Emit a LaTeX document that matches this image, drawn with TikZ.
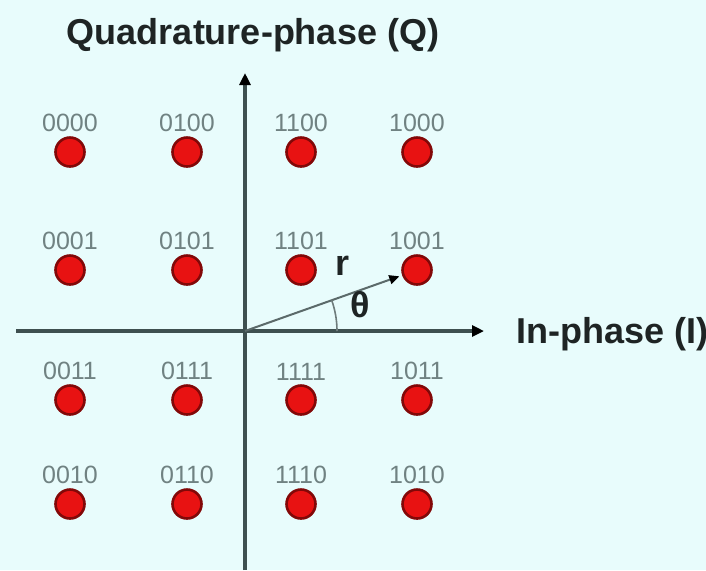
\documentclass[tikz,border=0pt]{standalone}
\usepackage{fontspec}
\setmainfont{Liberation Sans}
\usetikzlibrary{arrows.meta,positioning}
\definecolor{bgcyan}{RGB}{232,252,252}
\definecolor{dotred}{RGB}{232,18,18}
\definecolor{dotrim}{RGB}{130,8,8}
\definecolor{axisgray}{RGB}{62,80,80}
\definecolor{lblgray}{RGB}{112,130,130}
\definecolor{inkdark}{RGB}{30,36,36}

\begin{document}
\begin{tikzpicture}[
    x=0.5pt, y=-0.5pt,
    node distance=0pt,
    sym/.style={circle, draw=dotrim, fill=dotred, line width=1.3pt,
                minimum size=14.5pt, inner sep=0pt},
    bits/.style={text=lblgray, font=\fontsize{12.5}{13}\selectfont, inner sep=0pt},
    axis/.style={draw=axisgray, line width=2pt,
                 -{Triangle[length=6pt, width=5.5pt, color=black]}},
    rvec/.style={draw=axisgray!85, line width=1pt, shorten >=1.5pt,
                 -{Triangle[length=5pt, width=4.5pt, color=black]}},
    ang/.style={draw=axisgray!75, line width=0.8pt},
    big/.style={text=inkdark, font=\bfseries\fontsize{18}{20}\selectfont},
]
\fill[bgcyan] (0,0) rectangle (706,570);
\useasboundingbox (0,0) rectangle (706,570);

% Axes.
\coordinate (O) at (245,331);
\coordinate (qlo) at (245,570);
\coordinate (qhi) at (245,73);
\coordinate (ilo) at (16,331);
\coordinate (ihi) at (484,331);
\draw[axis] (qlo) -- (qhi);
\draw[axis] (ilo) -- (ihi);
\node[big, anchor=base] (qname) at (253,44) {Quadrature-phase (Q)};
\node[big, anchor=base west, inner sep=0pt] (iname) at (516,343) {In-phase (I)};

% 16-QAM constellation: one symbol per grid point.
\foreach \y/\row in {152/{0000,0100,1100,1000},
                     270/{0001,0101,1101,1001},
                     400/{0011,0111,1111,1011},
                     504/{0010,0110,1110,1010}} {
  \foreach \x [count=\i] in {70,187,301,417} {
    \foreach \b [count=\j] in \row {
      \ifnum\i=\j
        \node[sym] (p\b) at (\x,\y) {};
        \node[bits, above=1.8pt of p\b] (t\b) {\b};
      \fi
    }
  }
}

% Amplitude and phase of symbol 1001.
\draw[rvec] (O) -- (p1001);
\draw[ang] (O) ++(92,0) arc[start angle=0, end angle=-19.5, radius=92];
\node[big] (rlab) at (342,266) {r};
\node[big] (theta) at (360,305) {θ};
\end{tikzpicture}
\end{document}
